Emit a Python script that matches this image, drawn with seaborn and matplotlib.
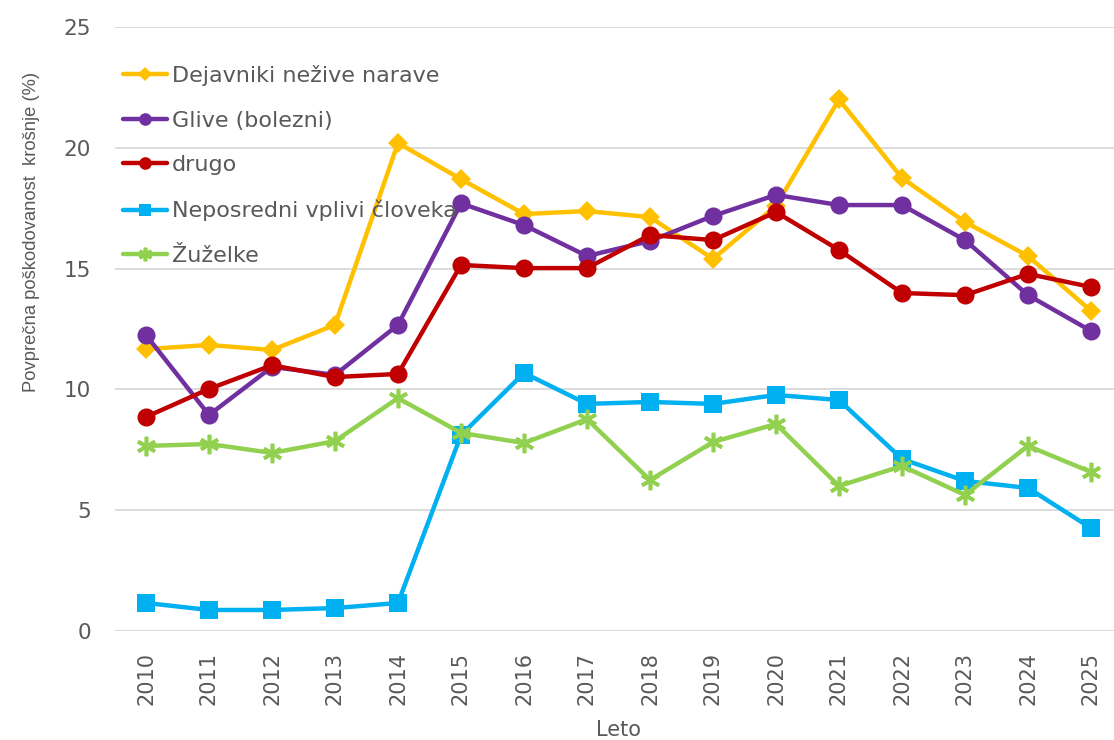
import pandas as pd
import matplotlib
matplotlib.use("Agg")
import matplotlib.pyplot as plt
import seaborn as sns

# Years on the x axis
years = list(range(2010, 2026))

# Mean crown damage (%) by cause
dejavniki = [11.67, 11.84, 11.63, 12.67, 20.2, 18.7, 17.26, 17.38, 17.13, 15.4, 17.6, 22.0, 18.75, 16.93, 15.52, 13.25]
glive = [12.25, 8.94, 10.93, 10.6, 12.67, 17.7, 16.8, 15.52, 16.14, 17.18, 18.05, 17.63, 17.63, 16.18, 13.9, 12.42]
drugo = [8.86, 10.02, 11.0, 10.51, 10.64, 15.15, 15.02, 15.02, 16.39, 16.18, 17.34, 15.77, 13.99, 13.9, 14.78, 14.24]
neposredni = [1.16, 0.87, 0.87, 0.95, 1.16, 8.11, 10.68, 9.4, 9.48, 9.4, 9.77, 9.56, 7.12, 6.21, 5.92, 4.26]
zuzelke = [7.66, 7.74, 7.37, 7.86, 9.64, 8.2, 7.78, 8.77, 6.25, 7.82, 8.57, 6.0, 6.83, 5.63, 7.66, 6.58]

series_names = ["Dejavniki nežive narave", "Glive (bolezni)", "drugo",
                "Neposredni vplivi človeka", "Žuželke"]
series_values = [dejavniki, glive, drugo, neposredni, zuzelke]

# Long-form table for seaborn
df = pd.DataFrame({
    "Leto": years * len(series_names),
    "Vrednost": sum(series_values, []),
    "Vzrok": [n for n in series_names for _ in years],
})

colors = {
    "Dejavniki nežive narave": "#FFC000",
    "Glive (bolezni)": "#7030A0",
    "drugo": "#C00000",
    "Neposredni vplivi človeka": "#00B0F0",
    "Žuželke": "#92D050",
}
# seaborn won't mix filled and line markers, so the asterisk is set afterwards
markers = {
    "Dejavniki nežive narave": "D",
    "Glive (bolezni)": "o",
    "drugo": "o",
    "Neposredni vplivi človeka": "s",
    "Žuželke": "X",
}
msizes = {
    "Dejavniki nežive narave": 10,
    "Glive (bolezni)": 13,
    "drugo": 13,
    "Neposredni vplivi človeka": 12.5,
    "Žuželke": 14,
}

sns.set_style("white")
plt.rcParams["font.family"] = ["DejaVu Sans"]
text_color = "#595959"

fig = plt.figure(figsize=(11.14, 7.4), dpi=100)
ax = fig.add_axes([114.5 / 1114, 1 - 631 / 740, 1008 / 1114, 604 / 740])

sns.lineplot(data=df, x="Leto", y="Vrednost", hue="Vzrok", style="Vzrok",
             hue_order=series_names, style_order=series_names,
             palette=colors, markers=markers, dashes=False,
             linewidth=3.2, ax=ax, legend=False)

# Markers in the same colour as the line
for line, name in zip(ax.get_lines(), series_names):
    if name == "Žuželke":
        line.set_marker((6, 2, 0))
    line.set_markeredgecolor(colors[name])
    line.set_markerfacecolor(colors[name])
    line.set_markersize(msizes[name])
    line.set_markeredgewidth(2.6 if name == "Žuželke" else 0)

ax.set_xlim(2009.5, 2025.5)
ax.set_ylim(0, 25)
ax.set_xticks(years)
ax.set_xticklabels([str(y) for y in years], rotation=90)
ax.set_yticks(range(0, 26, 5))
ax.tick_params(axis="x", length=0, pad=15, labelsize=15, colors=text_color)
ax.tick_params(axis="y", length=0, pad=17, labelsize=15.5, colors=text_color)
ax.grid(axis="y", color="#d9d9d9", linewidth=1.3)
ax.set_axisbelow(True)
for s in ax.spines.values():
    s.set_visible(False)

ax.set_xlabel("Leto", fontsize=15, color=text_color, va="top")
ax.xaxis.set_label_coords(0.5, -0.148)
ax.set_ylabel("Povprečna poškodovanost  krošnje (%)", fontsize=13.2, color=text_color,
              family=["Liberation Sans", "DejaVu Sans"])
ax.yaxis.set_label_coords(-0.074, 0.66)

leg = ax.legend(handles=ax.get_lines()[:5], labels=series_names, loc="upper left",
                bbox_to_anchor=(0, 0.952), borderaxespad=0, frameon=False,
                fontsize=16, labelspacing=1.11, handlelength=1.94,
                handletextpad=0.25, markerscale=0.7, borderpad=0.4)
for t in leg.get_texts():
    t.set_color(text_color)

fig.savefig("out.png", dpi=100)
